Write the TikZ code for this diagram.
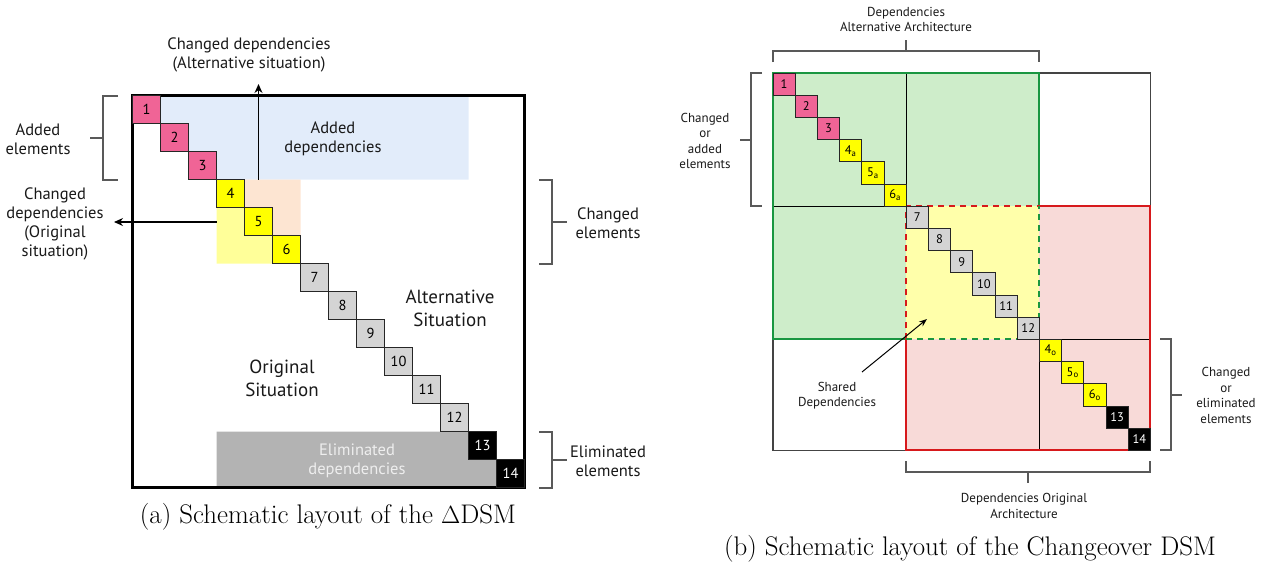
\documentclass[tikz,border=0pt]{standalone}
\usepackage{fontspec}
\newfontfamily\labelfont{PT Sans}
\usetikzlibrary{arrows.meta}

\definecolor{cellpink}{HTML}{F06496}
\definecolor{cellyellow}{HTML}{FFFF00}
\definecolor{cellgray}{HTML}{D4D4D4}
\definecolor{addblue}{HTML}{E2ECFA}
\definecolor{chgorange}{HTML}{FDE5D2}
\definecolor{chgyellow}{HTML}{FFFF99}
\definecolor{elimgray}{HTML}{B3B3B3}
\definecolor{elimtext}{HTML}{EEEEEE}
\definecolor{bracegray}{HTML}{595959}
\definecolor{altgreen}{HTML}{CEEDCA}
\definecolor{altgreenline}{HTML}{1A9641}
\definecolor{orgred}{HTML}{F8DAD8}
\definecolor{orgredline}{HTML}{D7191C}
\definecolor{sharedyellow}{HTML}{FFFFAA}
\definecolor{gridline}{HTML}{444444}

\begin{document}
\begin{tikzpicture}[x=1pt,y=-1pt,
  lbl/.style={font=\labelfont\fontsize{16.5}{19}\selectfont, align=center, inner sep=0pt, text=black!90},
  biglbl/.style={lbl, font=\labelfont\fontsize{19}{22.5}\selectfont},
  smalllbl/.style={lbl, font=\labelfont\fontsize{13}{15.5}\selectfont},
  captionlbl/.style={font=\fontsize{26.9}{30}\selectfont, inner sep=0pt},
  brace/.style={draw=bracegray, line width=2.4pt},
  thinbrace/.style={draw=bracegray, line width=2pt},
  arr/.style={draw, line width=1.3pt, -{Stealth[length=9pt,width=8pt]}},
  lcell/.style={draw=black!85, line width=0.9pt, minimum size=28pt, inner sep=0pt,
    font=\labelfont\fontsize{14.5}{14.5}\selectfont},
  rcell/.style={draw=black!85, line width=0.8pt, minimum size=22.2pt, inner sep=0pt,
    font=\labelfont\fontsize{12.5}{12.5}\selectfont},
  greenedge/.style={draw=altgreenline, line width=2pt},
  rededge/.style={draw=orgredline, line width=2pt},
  dashedge/.style={line width=2pt, dash pattern=on 6pt off 5pt},
]
\useasboundingbox (0,0) rectangle (1261,563);

% ---------------- (a) Delta DSM ----------------
% added dependencies
\fill[addblue] (132.5,95.7) -- (468.5,95.7) -- (468.5,179.7) -- (188.5,179.7)
  -- (188.5,151.7) -- (160.5,151.7) -- (160.5,123.7) -- (132.5,123.7) -- cycle;
% changed dependencies, alternative and original
\fill[chgorange] (216.5,179.7) -- (300.5,179.7) -- (300.5,235.7) -- (244.5,235.7)
  -- (244.5,207.7) -- (216.5,207.7) -- cycle;
\fill[chgyellow] (216.5,207.7) -- (244.5,207.7) -- (244.5,235.7) -- (272.5,235.7)
  -- (272.5,263.7) -- (216.5,263.7) -- cycle;
% eliminated dependencies
\fill[elimgray] (216.5,431.7) -- (468.5,431.7) -- (468.5,459.7) -- (496.5,459.7)
  -- (496.5,487.7) -- (216.5,487.7) -- cycle;
% frame
\draw[line width=2.6pt] (132.5,95.7) rectangle (524.5,487.7);

% diagonal elements
\foreach \i/\f/\tc in {1/cellpink/black,2/cellpink/black,3/cellpink/black,
    4/cellyellow/black,5/cellyellow/black,6/cellyellow/black,
    7/cellgray/black,8/cellgray/black,9/cellgray/black,10/cellgray/black,
    11/cellgray/black,12/cellgray/black,13/black/white,14/black/white}
  \node[lcell, fill=\f, text=\tc] (L\i) at ({132.5+(\i-0.5)*28},{95.7+(\i-0.5)*28}) {\i};

% labels inside the matrix
\node[lbl] (addeddep) at (333,139) {Added\\dependencies};
\node[biglbl] (altsit) at (450,308.5) {Alternative\\Situation};
\node[biglbl] (orgsit) at (282,378.5) {Original\\Situation};
\node[lbl, text=elimtext] (elimdep) at (357,461) {Eliminated\\dependencies};

% changed dependency pointers
\node[lbl] (chgalt) at (249,55) {Changed dependencies\\(Alternative situation)};
\node[lbl] (chgorg) at (55,223.5) {Changed\\dependencies\\(Original\\situation)};
\coordinate (upfoot) at (258.5,179.7);
\coordinate (uptip) at (258.5,84);
\coordinate (leftfoot) at (216.5,222);
\coordinate (lefttip) at (114,222);
\draw[arr] (upfoot) -- (uptip);
\draw[arr] (leftfoot) -- (lefttip);

% element braces
\draw[brace] (118,95.7) -- (103,95.7) -- (103,179.7) -- (118,179.7);
\draw[brace] (103,137.7) -- (90,137.7);
\node[lbl] (addedel) at (38,139) {Added\\elements};

\draw[brace] (539,179.7) -- (552,179.7) -- (552,263.7) -- (539,263.7);
\draw[brace] (552,221.7) -- (567,221.7);
\node[lbl] (chgel) at (608,223.5) {Changed\\elements};

\draw[brace] (539,431.7) -- (552,431.7) -- (552,487.7) -- (539,487.7);
\draw[brace] (552,459.7) -- (567,459.7);
\node[lbl] (elimel) at (608,461.5) {Eliminated\\elements};

\node[captionlbl] (capa) at (328,517) {(a) Schematic layout of the $\Delta$DSM};

% ---------------- (b) Changeover DSM ----------------
\fill[altgreen] (773,73) rectangle (1039.4,339.4);
\fill[orgred] (906.2,206.2) rectangle (1150.4,450.4);
\fill[sharedyellow] (906.2,206.2) rectangle (1039.4,339.4);

% block grid
\draw[gridline, line width=1.1pt] (1039.4,73) rectangle (1150.4,206.2);
\draw[gridline, line width=1.1pt] (773,339.4) rectangle (906.2,450.4);
\draw[black, line width=1pt] (906.2,73) -- (906.2,206.2);
\draw[black, line width=1pt] (773,206.2) -- (906.2,206.2);
\draw[black, line width=1pt] (1039.4,339.4) -- (1150.4,339.4);
\draw[black, line width=1pt] (1039.4,339.4) -- (1039.4,450.4);

% alternative (green) and original (red) outlines
\draw[greenedge] (1039.4,206.2) -- (1039.4,73) -- (773,73) -- (773,339.4) -- (906.2,339.4);
\draw[rededge] (1039.4,206.2) -- (1150.4,206.2) -- (1150.4,450.4) -- (906.2,450.4) -- (906.2,339.4);
\draw[dashedge, draw=orgredline] (906.2,339.4) -- (906.2,206.2) -- (1039.4,206.2);
\draw[dashedge, draw=altgreenline] (906.2,339.4) -- (1039.4,339.4) -- (1039.4,206.2);

% diagonal elements
\foreach \i/\lab/\f/\tc in {1/1/cellpink/black,2/2/cellpink/black,3/3/cellpink/black,
    4/{4\textsubscript{a}}/cellyellow/black,5/{5\textsubscript{a}}/cellyellow/black,
    6/{6\textsubscript{a}}/cellyellow/black,
    7/7/cellgray/black,8/8/cellgray/black,9/9/cellgray/black,10/10/cellgray/black,
    11/11/cellgray/black,12/12/cellgray/black,
    13/{4\textsubscript{o}}/cellyellow/black,14/{5\textsubscript{o}}/cellyellow/black,
    15/{6\textsubscript{o}}/cellyellow/black,16/13/black/white,17/14/black/white}
  \node[rcell, fill=\f, text=\tc] (R\i) at ({773+(\i-0.5)*22.2},{73+(\i-0.5)*22.2}) {\lab};

% shared dependencies pointer
\node[smalllbl] (shared) at (837,395.5) {Shared\\Dependencies};
\coordinate (sharedfoot) at (862,372);
\coordinate (sharedtip) at (927,319);
\draw[draw, line width=1pt, -{Stealth[length=8pt,width=6pt]}] (sharedfoot) -- (sharedtip);

% braces
\draw[thinbrace] (773,62) -- (773,51) -- (1039.4,51) -- (1039.4,62);
\draw[thinbrace] (906.2,51) -- (906.2,40);
\node[smalllbl] (depalt) at (906,19.5) {Dependencies\\Alternative Architecture};

\draw[thinbrace] (762,73) -- (751,73) -- (751,206.2) -- (762,206.2);
\draw[thinbrace] (751,139.6) -- (740,139.6);
\node[smalllbl] (chgadd) at (705,141) {Changed\\or\\added\\elements};

\draw[thinbrace] (1160,339.4) -- (1171,339.4) -- (1171,450.4) -- (1160,450.4);
\draw[thinbrace] (1171,394.9) -- (1182,394.9);
\node[smalllbl] (chgelim) at (1226,395.5) {Changed\\or\\eliminated\\elements};

\draw[thinbrace] (906.2,461) -- (906.2,472) -- (1150.4,472) -- (1150.4,461);
\draw[thinbrace] (1028.3,472) -- (1028.3,483);
\node[smalllbl] (deporg) at (1024,506) {Dependencies Original\\Architecture};

\node[captionlbl] (capb) at (970,549) {(b) Schematic layout of the Changeover DSM};
\end{tikzpicture}
\end{document}
